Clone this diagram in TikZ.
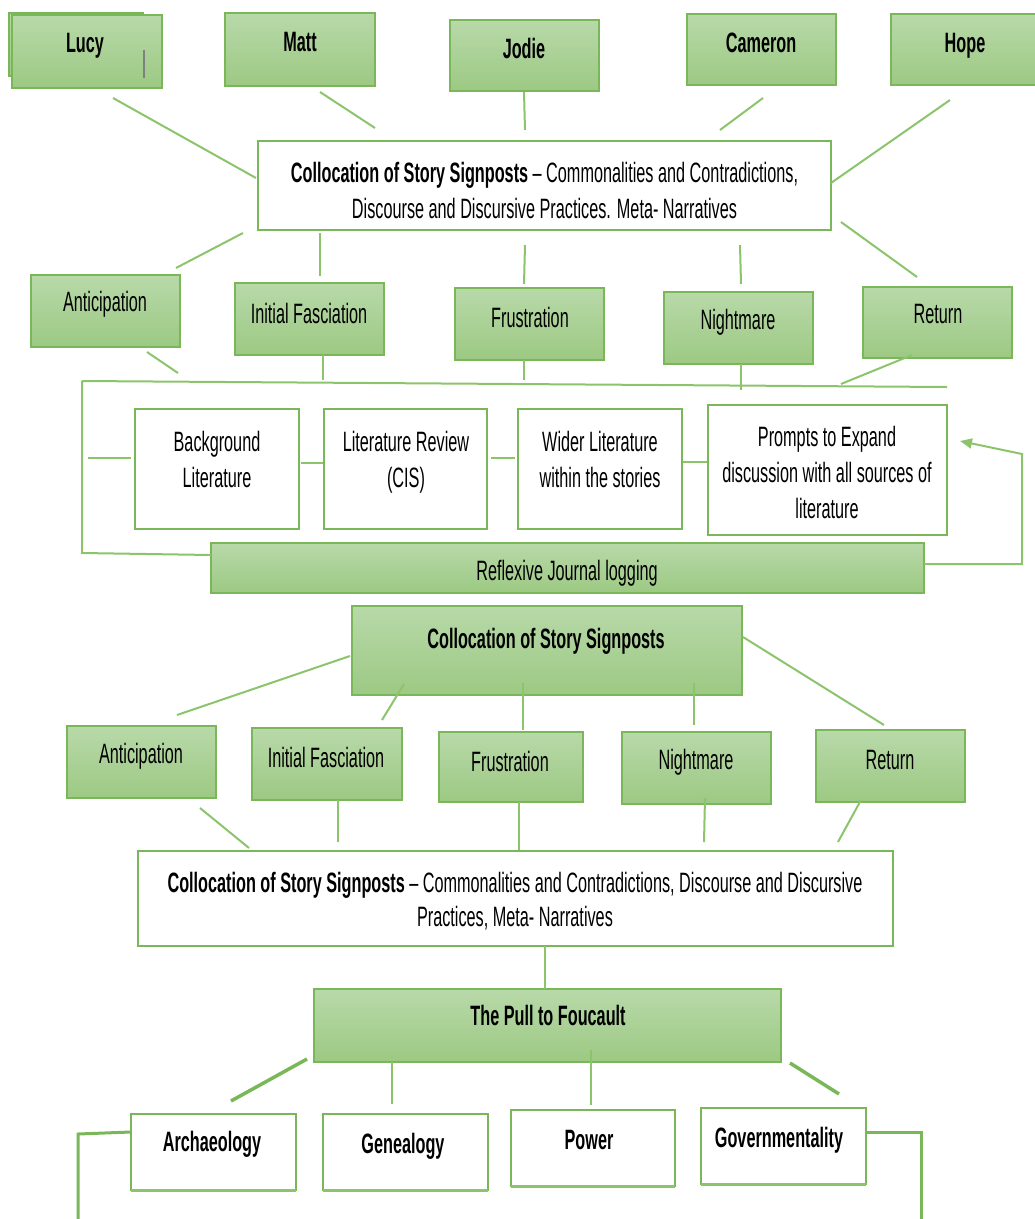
\documentclass[tikz,border=0pt]{standalone}
\usepackage{fontspec}
\setmainfont{Liberation Sans}[FakeStretch=0.58]
\usetikzlibrary{arrows.meta,calc}
\definecolor{gtop}{RGB}{184,217,169}
\definecolor{gbot}{RGB}{156,201,131}
\definecolor{gedge}{RGB}{122,183,88}
\definecolor{gline}{RGB}{140,196,108}
\tikzset{
  sz/.style 2 args={minimum width=#1pt, minimum height=#2pt},
  gbox/.style={draw=gedge, line width=1.5pt, top color=gtop, bottom color=gbot, inner sep=0pt, outer sep=0pt},
  wbox/.style={draw=gedge, line width=1.3pt, fill=white, inner sep=0pt, outer sep=0pt},
  conn/.style={draw=gline, line width=2pt},
  heavy/.style={draw=gedge, line width=3.5pt},
  txt/.style={inner sep=0pt, font=\fontsize{28}{36}\selectfont, align=center},
  btxt/.style={txt, font=\fontsize{28}{36}\selectfont\bfseries},
}
\begin{document}
\begin{tikzpicture}[x=1pt,y=-1pt]
\useasboundingbox (0,0) rectangle (1035,1219);

% ---- participants ----
\node[gbox, sz={134}{63}] (lucyback) at (76,44.5) {};
\node[gbox, sz={150}{73}] (lucy) at (87,51.5) {};
\draw[gray, line width=1.2pt] (lucy.center) ++(57,-2) coordinate (curA) -- ++(0,28) coordinate (curB);
\node[gbox, sz={150}{73}] (matt) at (300,49.5) {};
\node[gbox, sz={149}{71}] (jodie) at (524.5,55.5) {};
\node[gbox, sz={149}{71}] (cameron) at (761.5,49.5) {};
\node[gbox, sz={149}{71}] (hope) at (965.5,49.5) {};
\node[btxt, anchor=base] (lucyt) at (85,52) {Lucy};
\node[btxt, anchor=base] (mattt) at (300,51) {Matt};
\node[btxt, anchor=base] (jodiet) at (524,58) {Jodie};
\node[btxt, anchor=base] (cameront) at (761,52) {Cameron};
\node[btxt, anchor=base] (hopet) at (965,52) {Hope};

% ---- first collocation ----
\node[wbox, sz={573}{89}] (cent1) at (544.5,185.5) {};
\node[txt, anchor=north] (cent1t) at (544.5,162) {\textbf{Collocation of Story Signposts} -- Commonalities and Contradictions,\\Discourse and Discursive Practices. Meta- Narratives};

% ---- signposts, first row ----
\node[gbox, sz={149}{72}] (ant1) at (105.5,311) {};
\node[gbox, sz={149}{72}] (ini1) at (309.5,319) {};
\node[gbox, sz={149}{72}] (fru1) at (529.5,324) {};
\node[gbox, sz={149}{72}] (nig1) at (738.5,328) {};
\node[gbox, sz={149}{71}] (ret1) at (937.5,322.5) {};
\node[txt, anchor=base] (ant1t) at (105,311) {Anticipation};
\node[txt, anchor=base] (ini1t) at (309,323) {Initial Fasciation};
\node[txt, anchor=base] (fru1t) at (530,327) {Frustration};
\node[txt, anchor=base] (nig1t) at (738,329) {Nightmare};
\node[txt, anchor=base] (ret1t) at (938,323) {Return};

% ---- literature ----
\node[wbox, sz={164}{120}] (bg) at (217,469) {};
\node[wbox, sz={163}{120}] (lr) at (405.5,469) {};
\node[wbox, sz={164}{120}] (wl) at (600,469) {};
\node[wbox, sz={239}{130}] (pr) at (827.5,470) {};
\node[txt, anchor=north] (bgt) at (217,431) {Background\\Literature};
\node[txt, anchor=north] (lrt) at (406,431) {Literature Review\\(CIS)};
\node[txt, anchor=north] (wlt) at (600,431) {Wider Literature\\within the stories};
\node[txt, anchor=north] (prt) at (827,426) {Prompts to Expand\\discussion with all sources of\\literature};
\node[gbox, sz={713}{50}] (refl) at (567.5,568) {};
\node[txt, anchor=base] (reflt) at (567,580) {Reflexive Journal logging};

% ---- second collocation ----
\node[gbox, sz={390}{89}] (col2) at (547,650.5) {};
\node[btxt, anchor=base] (col2t) at (546,648) {Collocation of Story Signposts};

\node[gbox, sz={149}{72}] (ant2) at (141.5,762) {};
\node[gbox, sz={150}{72}] (ini2) at (327,764) {};
\node[gbox, sz={144}{70}] (fru2) at (511,767) {};
\node[gbox, sz={149}{72}] (nig2) at (696.5,768) {};
\node[gbox, sz={149}{72}] (ret2) at (890.5,766) {};
\node[txt, anchor=base] (ant2t) at (141,763) {Anticipation};
\node[txt, anchor=base] (ini2t) at (326,767) {Initial Fasciation};
\node[txt, anchor=base] (fru2t) at (510,771) {Frustration};
\node[txt, anchor=base] (nig2t) at (696,769) {Nightmare};
\node[txt, anchor=base] (ret2t) at (890,769) {Return};

\node[wbox, sz={755}{95}] (cent2) at (515.5,898.5) {};
\node[txt, anchor=north] (cent2t) at (515,872) {\textbf{Collocation of Story Signposts} -- Commonalities and Contradictions, Discourse and Discursive\\[-2pt]Practices, Meta- Narratives};

% ---- Foucault ----
\node[gbox, sz={467}{73}] (pull) at (547.5,1025.5) {};
\node[btxt, anchor=base] (pullt) at (548,1025) {The Pull to Foucault};

\node[wbox, sz={165}{76}] (arch) at (213.5,1152) {};
\node[wbox, sz={165}{76}] (gen) at (405.5,1152) {};
\node[wbox, sz={164}{76}] (pow) at (593,1148) {};
\node[wbox, sz={165}{76}] (gov) at (783.5,1146) {};
\foreach \b in {arch,gen,pow,gov}
  \draw[gline, line width=3pt] (\b.south west) -- (\b.south east);
\node[btxt, anchor=base] (archt) at (212,1151) {Archaeology};
\node[btxt, anchor=base] (gent) at (403,1153) {Genealogy};
\node[btxt, anchor=base] (powt) at (589,1149) {Power};
\node[btxt, anchor=base] (govt) at (779,1147) {Governmentality};

% ---- connector end points ----
\coordinate (a1) at (113,98);  \coordinate (b1) at (256,178);
\coordinate (a2) at (320,92);  \coordinate (b2) at (375,128);
\coordinate (a3) at (524,92);  \coordinate (b3) at (525,130);
\coordinate (a4) at (763,98);  \coordinate (b4) at (720,130);
\coordinate (a5) at (950,100); \coordinate (b5) at (831,183);
\coordinate (a6) at (243,233); \coordinate (b6) at (176,268);
\coordinate (a7) at (320,233); \coordinate (b7) at (320,276);
\coordinate (a8) at (525,245); \coordinate (b8) at (524,284);
\coordinate (a9) at (740,245); \coordinate (b9) at (741,284);
\coordinate (a10) at (841,222); \coordinate (b10) at (917,277);
\coordinate (a11) at (147,352); \coordinate (b11) at (178,373);
\coordinate (a12) at (323,355); \coordinate (b12) at (323,380);
\coordinate (a13) at (524,360); \coordinate (b13) at (524,380);
\coordinate (a14) at (741,364); \coordinate (b14) at (741,390);
\coordinate (a15) at (912,355); \coordinate (b15) at (841,384);
\coordinate (railL) at (82,381); \coordinate (railR) at (947,387);
\coordinate (railB) at (82,553); \coordinate (reflIn) at (211,555);
\coordinate (a18) at (88,458);  \coordinate (b18) at (131,458);
\coordinate (a19) at (301,463); \coordinate (b19) at (323,463);
\coordinate (a20) at (491,458); \coordinate (b20) at (515,458);
\coordinate (a21) at (683,462); \coordinate (b21) at (707,462);
\coordinate (reflOut) at (924,564);
\coordinate (loopA) at (1022,564); \coordinate (loopB) at (1022,454);
\coordinate (loopTip) at (960,441);
\coordinate (a23) at (350,656); \coordinate (b23) at (177,715);
\coordinate (a24) at (404,684); \coordinate (b24) at (382,720);
\coordinate (a25) at (523,683); \coordinate (b25) at (523,730);
\coordinate (a26) at (694,683); \coordinate (b26) at (694,725);
\coordinate (a27) at (743,637); \coordinate (b27) at (884,725);
\coordinate (a28) at (200,808); \coordinate (b28) at (249,848);
\coordinate (a29) at (338,800); \coordinate (b29) at (338,842);
\coordinate (a30) at (519,802); \coordinate (b30) at (519,850);
\coordinate (a31) at (705,798); \coordinate (b31) at (704,842);
\coordinate (a32) at (861,800); \coordinate (b32) at (838,842);
\coordinate (a33) at (545,946); \coordinate (b33) at (545,989);
\coordinate (a34) at (307,1059); \coordinate (b34) at (231,1101);
\coordinate (a35) at (392,1062); \coordinate (b35) at (392,1104);
\coordinate (a36) at (591,1050); \coordinate (b36) at (591,1105);
\coordinate (a37) at (790,1063); \coordinate (b37) at (839,1094);
\coordinate (archIn) at (131,1132);
\coordinate (archL) at (78,1134); \coordinate (archD) at (78,1230);
\coordinate (govIn) at (866,1132);
\coordinate (govR) at (921,1132); \coordinate (govD) at (921,1230);

% ---- connectors ----
\foreach \i in {1,...,15}
  \draw[conn] (a\i) -- (b\i);
\draw[conn] (railL) -- (railR);
\draw[conn] (railL) -- (railB) -- (reflIn);
\foreach \i in {18,...,21}
  \draw[conn] (a\i) -- (b\i);
\draw[conn, -{Triangle[length=12pt,width=10pt]}] (reflOut) -- (loopA) -- (loopB) -- (loopTip);
\foreach \i in {23,...,33}
  \draw[conn] (a\i) -- (b\i);
\draw[heavy] (a34) -- (b34);
\draw[conn] (a35) -- (b35);
\draw[conn] (a36) -- (b36);
\draw[heavy] (a37) -- (b37);
\draw[heavy, line width=3pt] (archIn) -- (archL) -- (archD);
\draw[heavy, line width=3pt] (govIn) -- (govR) -- (govD);
\end{tikzpicture}
\end{document}
